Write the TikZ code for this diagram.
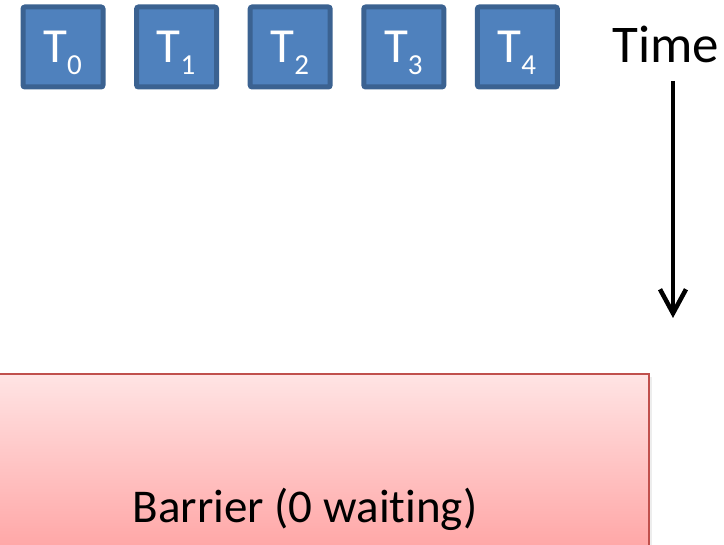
\documentclass[tikz,border=0pt]{standalone}
\usepackage{fontspec}
\setmainfont{Carlito}[Ligatures=NoCommon]
\usetikzlibrary{arrows.meta}

\definecolor{taskfill}{HTML}{4F81BD}
\definecolor{taskedge}{HTML}{3B6291}
\definecolor{barrieredge}{HTML}{C0504D}
\definecolor{barriertop}{HTML}{FFE4E4}
\definecolor{barrierbottom}{HTML}{FFA0A0}

\tikzset{
  taskbox/.style={draw=taskedge, fill=taskfill, line width=5pt,
    rounded corners=2pt, minimum width=80pt, minimum height=80pt,
    inner sep=0pt},
  tasklabel/.style={anchor=base, text=white, inner sep=0pt,
    font=\fontsize{49}{49}\selectfont},
  barrierbox/.style={draw=barrieredge, line width=2pt,
    top color=barriertop, bottom color=barrierbottom},
  timeline/.style={line width=4.5pt,
    -{Straight Barb[length=24pt,width=26pt,line width=4.5pt]}},
}

\newcommand{\taskname}[1]{T\raisebox{-12pt}{\fontsize{29}{29}\selectfont #1}}

\begin{document}
\begin{tikzpicture}[x=1pt,y=-1pt]
  \useasboundingbox (0,0) rectangle (724,545);
  \clip (0,0) rectangle (724,545);

  % threads
  \foreach \i in {0,...,4}{
    \node[taskbox] (box\i) at ({63+113.6*\i},47) {};
    \node[tasklabel] (lab\i) at ({62.5+113.6*\i},63) {\taskname{\i}};
  }

  % time axis
  \node[anchor=base west, inner sep=0pt,
        font=\fontsize{53}{53}\selectfont] (time) at (612,63) {Time};
  \coordinate (tstart) at (673,81);
  \coordinate (tend) at (673,318);
  \draw[timeline] (tstart) -- (tend);

  % barrier
  \fill[black!7] (-28,377) rectangle (652,570);
  \path[barrierbox] (-30,374) rectangle (649,566);
  \node[anchor=base, inner sep=0pt,
        font=\fontsize{47}{47}\selectfont] (barrier) at (305,523)
        {Barrier (0 waiting)};
\end{tikzpicture}
\end{document}
